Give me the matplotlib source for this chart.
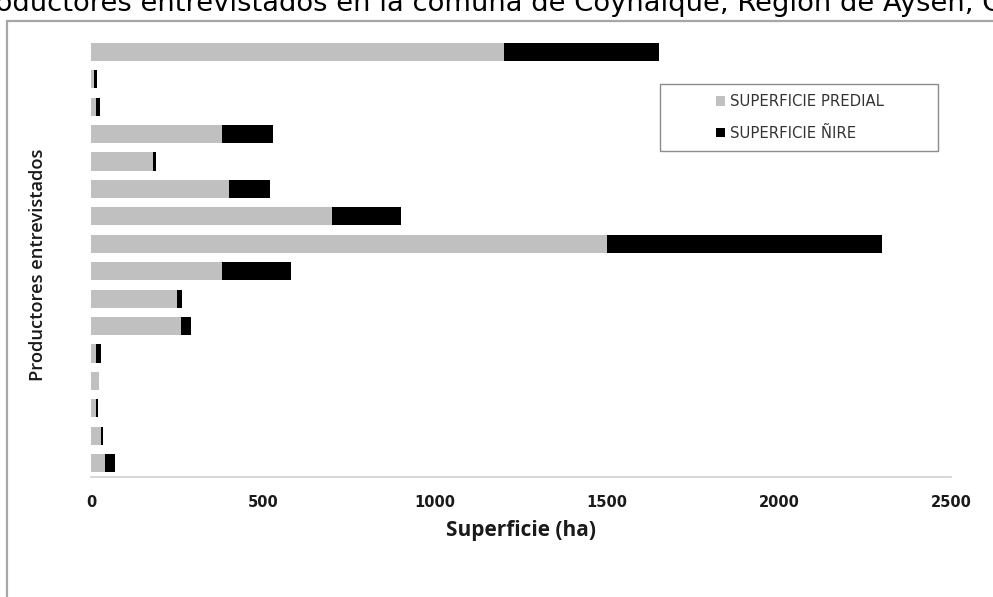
import matplotlib
matplotlib.use("Agg")
import matplotlib.pyplot as plt
from matplotlib.patches import Rectangle
import numpy as np

# Data (top to bottom as in the chart)
productores = [f"P{i}" for i in range(1, 17)]
superficie_predial = [1200, 10, 15, 380, 180, 400, 700, 1500, 380, 250, 262, 15, 22, 15, 28, 40]
superficie_nire = [450, 8, 12, 150, 10, 120, 200, 800, 200, 15, 30, 15, 0, 6, 6, 30]
xticks = [0, 500, 1000, 1500, 2000, 2500]

W, H = 993, 597
fig = plt.figure(figsize=(W / 100, H / 100), dpi=100)

def fx(px):
    return px / W

def fy(py):
    return 1 - py / H

# Partial title (cut at top of image)
fig.text(fx(-31), fy(11), "Productores entrevistados en la comuna de Coyhaique, Región de Aysén, Chile",
         fontsize=19.7, family="DejaVu Sans", va="baseline", ha="left", color="black")

# Outer border (partly outside image)
fig.patches.append(Rectangle((fx(7), fy(700)), fx(1100), fy(21) - fy(700),
                             transform=fig.transFigure, fill=False,
                             edgecolor="#a6a6a6", linewidth=1.6))

ax = fig.add_axes([fx(91), fy(477), fx(951) - fx(91), fy(38) - fy(477)])
y = np.arange(len(productores))
ax.barh(y, superficie_predial, height=0.66, color="#c0c0c0", edgecolor="none", label="SUPERFICIE PREDIAL")
ax.barh(y, superficie_nire, left=superficie_predial, height=0.66, color="#000000", edgecolor="none",
        label="SUPERFICIE ÑIRE")
ax.set_ylim(len(productores) - 0.5, -0.5)
ax.set_xlim(0, 2500)
ax.set_yticks([])
ax.set_xticks(xticks)
ax.set_xticklabels([str(t) for t in xticks], fontsize=10.5, fontweight="bold", family="DejaVu Sans",
                   color="#1a1a1a")
ax.tick_params(axis="x", length=0, pad=13)
for s in ["top", "right", "left"]:
    ax.spines[s].set_visible(False)
ax.spines["bottom"].set_color("#d0d0d0")
ax.spines["bottom"].set_linewidth(1.2)
ax.set_xlabel("Superficie (ha)", fontsize=15, fontweight="bold", family="Open Sans",
              labelpad=7, color="#1a1a1a")
fig.text(fx(38), fy(265), "Productores entrevistados", rotation=90, fontsize=13.2,
         family="Open Sans", fontweight="semibold",
         va="center", ha="center", color="#1a1a1a")

# Legend box
fig.patches.append(Rectangle((fx(660), fy(151)), fx(278), fy(84) - fy(151),
                             transform=fig.transFigure, fill=False,
                             edgecolor="#8c8c8c", linewidth=1.0))
leg = ax.legend(loc="center", bbox_to_anchor=(fx(800), fy(117.5)), bbox_transform=fig.transFigure,
                frameon=False, fontsize=10.7, handlelength=0.6, handleheight=0.6,
                handletextpad=0.3, labelspacing=1.1)
for t in leg.get_texts():
    t.set_color("#333333")

fig.savefig("out.png", dpi=100)
